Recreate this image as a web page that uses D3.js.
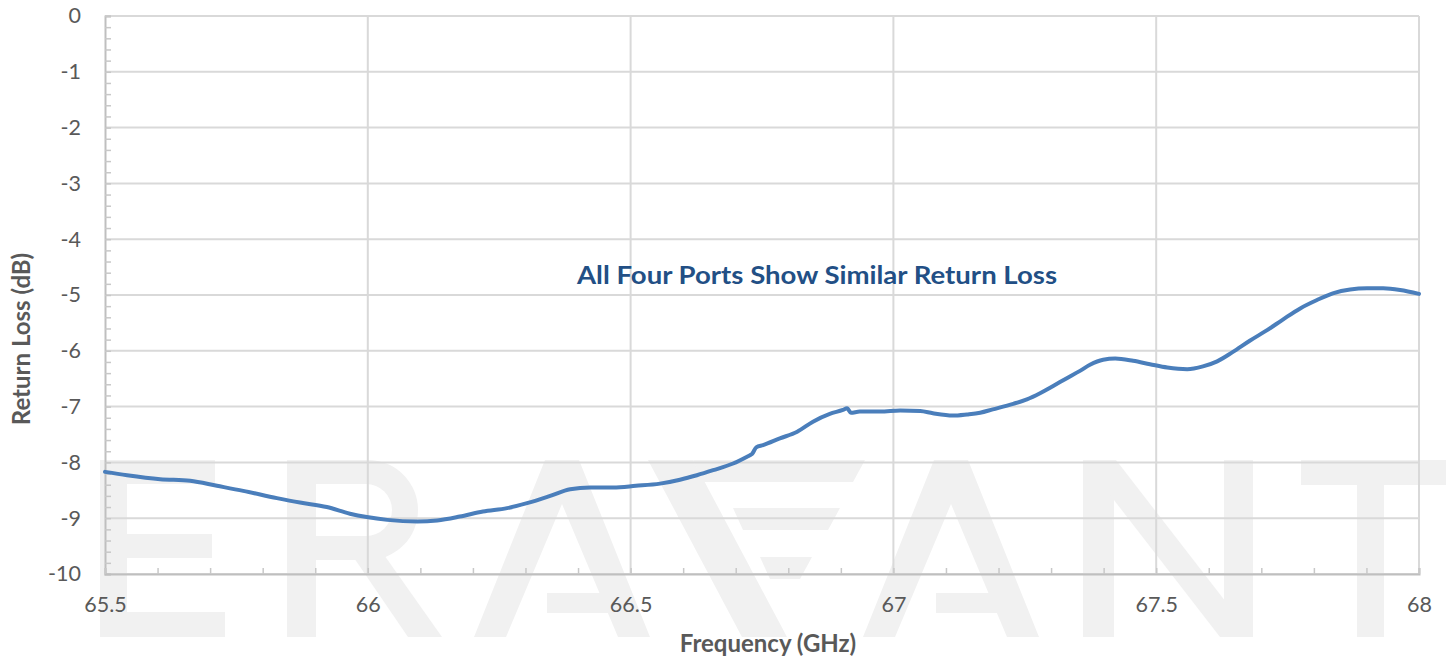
<!DOCTYPE html>
<html>
<head>
<meta charset="utf-8">
<script src="https://cdn.jsdelivr.net/npm/d3@7/dist/d3.min.js"></script>
<style>
  html, body { margin: 0; padding: 0; background: #ffffff; }
  svg { display: block; }
  .tick-label { font-family: Lato, "Open Sans", sans-serif; font-size: 21.5px; fill: #595959; }
  .axis-title { font-family: Lato, "Open Sans", sans-serif; font-size: 24px; font-weight: 700; fill: #595959; }
</style>
</head>
<body>
<svg id="chart" width="1449" height="660"></svg>
<script>
// Measured return loss of one port, 65.5–68 GHz
const freqGHz = [
  65.500, 65.542, 65.605, 65.662, 65.713, 65.763, 65.827, 65.871, 65.922, 65.966,
  65.998, 66.037, 66.094, 66.132, 66.175, 66.219, 66.265, 66.303, 66.347, 66.385,
  66.423, 66.467, 66.510, 66.556, 66.594, 66.626, 66.657, 66.695, 66.727, 66.731,
  66.739, 66.752, 66.784, 66.817, 66.847, 66.879, 66.904, 66.912, 66.919, 66.936,
  66.975, 67.013, 67.051, 67.075, 67.113, 67.140, 67.165, 67.189, 67.228, 67.254,
  67.279, 67.304, 67.330, 67.355, 67.374, 67.399, 67.422, 67.456, 67.488, 67.521,
  67.559, 67.589, 67.616, 67.646, 67.678, 67.711, 67.741, 67.774, 67.806, 67.836,
  67.869, 67.901, 67.932, 67.964, 68.000
];
const returnLossDb = [
  -8.17, -8.23, -8.30, -8.33, -8.42, -8.51, -8.64, -8.72, -8.80, -8.92,
  -8.98, -9.03, -9.06, -9.04, -8.97, -8.88, -8.82, -8.73, -8.60, -8.48,
  -8.45, -8.45, -8.42, -8.38, -8.31, -8.23, -8.14, -8.02, -7.87, -7.85,
  -7.73, -7.69, -7.57, -7.45, -7.27, -7.13, -7.06, -7.03, -7.11, -7.09,
  -7.09, -7.07, -7.08, -7.12, -7.16, -7.14, -7.11, -7.05, -6.95, -6.87,
  -6.76, -6.63, -6.49, -6.36, -6.25, -6.16, -6.14, -6.18, -6.24, -6.30,
  -6.33, -6.28, -6.19, -6.02, -5.82, -5.63, -5.44, -5.24, -5.09, -4.97,
  -4.90, -4.88, -4.88, -4.91, -4.98
];

const xTicks = [65.5, 66, 66.5, 67, 67.5, 68];
const yTicks = [0, -1, -2, -3, -4, -5, -6, -7, -8, -9, -10];
const xTitle = "Frequency (GHz)";
const yTitle = "Return Loss (dB)";
const note = "All Four Ports Show Similar Return Loss";

const svg = d3.select("#chart");
const plot = { left: 105, right: 1419, top: 16, bottom: 574 };

const x = d3.scaleLinear().domain([65.5, 68]).range([plot.left, plot.right]);
const y = d3.scaleLinear().domain([-10, 0]).range([plot.bottom, plot.top]);

// ---- faint company wordmark behind the plot ----
function drawWordmark(g) {
  const fill = "#f1f1f1";
  const top = 460, base = 637;
  const poly = pts => g.append("polygon").attr("points", pts.map(p => p.join(",")).join(" ")).attr("fill", fill);
  const rect = (x0, y0, w, h) => g.append("rect").attr("x", x0).attr("y", y0).attr("width", w).attr("height", h).attr("fill", fill);

  // E
  rect(100, top, 27, base - top);
  rect(100, top, 115, 24);
  rect(100, 534, 112, 24);
  rect(100, base - 25, 125, 25);

  // R
  rect(287, top, 29, base - top);
  g.append("path")
    .attr("d", `M287,${top} H368 A50,50 0 0 1 368,560 H287 Z M316,484 H366 A26,26 0 0 1 366,536 H316 Z`)
    .attr("fill", fill).attr("fill-rule", "evenodd");
  poly([[350, 552], [382, 552], [442, base], [408, base]]);

  // A (stylised, crossbar joined to the right leg only)
  const drawA = cx => {
    poly([[cx - 88, base], [cx - 17, top], [cx + 17, top], [cx + 88, base], [cx + 56, base],
          [cx, top + 44], [cx - 56, base]]);
    poly([[cx - 15, 593], [cx + 64, 593], [cx + 72, 613], [cx - 15, 613]]);
  };
  drawA(562);

  // V with a striped right arm
  poly([[648, top], [693, top], [787, base], [742, base]]);
  poly([[693, top], [865, top], [853, 482], [703, 482]]);
  poly([[733, 508], [840, 508], [828, 530], [743, 530]]);
  poly([[760, 557], [812, 557], [800, 579], [770, 579]]);

  drawA(951);

  // N
  rect(1083, top, 31, base - top);
  rect(1224, top, 29, base - top);
  poly([[1083, top], [1116, top], [1253, base], [1220, base]]);

  // T
  rect(1301, top, 145, 25);
  rect(1357, top, 27, base - top);
}
drawWordmark(svg.append("g"));

// ---- grid ----
const grid = svg.append("g");
grid.selectAll("line.h").data(yTicks).join("line")
  .attr("x1", plot.left).attr("x2", plot.right)
  .attr("y1", d => y(d)).attr("y2", d => y(d))
  .attr("stroke", "#d9d9d9").attr("stroke-width", 2);
grid.selectAll("line.v").data(xTicks.slice(1)).join("line")
  .attr("x1", d => x(d)).attr("x2", d => x(d))
  .attr("y1", plot.top).attr("y2", plot.bottom)
  .attr("stroke", "#d9d9d9").attr("stroke-width", 2);

// ---- axes: inside tick marks ----
const yMinor = d3.range(0, 51).map(i => -i * 0.2);
const xMinor = d3.range(0, 26).map(i => 65.5 + i * 0.1);

const yAxisG = svg.append("g").attr("transform", `translate(${plot.left},0)`)
  .call(d3.axisRight(y).tickValues(yMinor).tickSize(6).tickFormat(""));
const xAxisG = svg.append("g").attr("transform", `translate(0,${plot.bottom})`)
  .call(d3.axisTop(x).tickValues(xMinor).tickSize(6).tickFormat(""));
[yAxisG, xAxisG].forEach(g => {
  g.select(".domain").attr("stroke", "#bfbfbf").attr("stroke-width", 2);
  g.selectAll(".tick line").attr("stroke", "#c8c8c8").attr("stroke-width", 1.5);
});

// ---- tick labels ----
svg.append("g").attr("transform", `translate(${plot.left},0)`)
  .call(d3.axisLeft(y).tickValues(yTicks).tickSize(0).tickPadding(24).tickFormat(d => String(d)))
  .call(g => g.select(".domain").remove())
  .selectAll("text").attr("class", "tick-label").attr("font-size", null).attr("font-family", null);

svg.append("g").attr("transform", `translate(0,${plot.bottom})`)
  .call(d3.axisBottom(x).tickValues(xTicks).tickSize(0).tickPadding(23).tickFormat(d => String(d)))
  .call(g => g.select(".domain").remove())
  .selectAll("text").attr("class", "tick-label").attr("font-size", null).attr("font-family", null);

// ---- axis titles ----
svg.append("text").attr("class", "axis-title")
  .attr("x", 768).attr("y", 652)
  .attr("text-anchor", "middle").text(xTitle);
svg.append("text").attr("class", "axis-title")
  .attr("transform", `translate(30,339) rotate(-90)`)
  .attr("text-anchor", "middle").text(yTitle);

// ---- data line ----
const series = freqGHz.map((f, i) => ({ f, v: returnLossDb[i] }));
svg.append("path")
  .datum(series)
  .attr("fill", "none")
  .attr("stroke", "#4a7ebb")
  .attr("stroke-width", 4)
  .attr("stroke-linejoin", "round")
  .attr("stroke-linecap", "round")
  .attr("d", d3.line().x(d => x(d.f)).y(d => y(d.v)).curve(d3.curveMonotoneX));

// ---- annotation ----
svg.append("text")
  .attr("x", 577).attr("y", 284)
  .attr("textLength", 480).attr("lengthAdjust", "spacingAndGlyphs")
  .style("font-family", "Lato, 'Open Sans', sans-serif")
  .style("font-size", "25px").style("font-weight", 700)
  .style("fill", "#224f85")
  .text(note);
</script>
</body>
</html>
